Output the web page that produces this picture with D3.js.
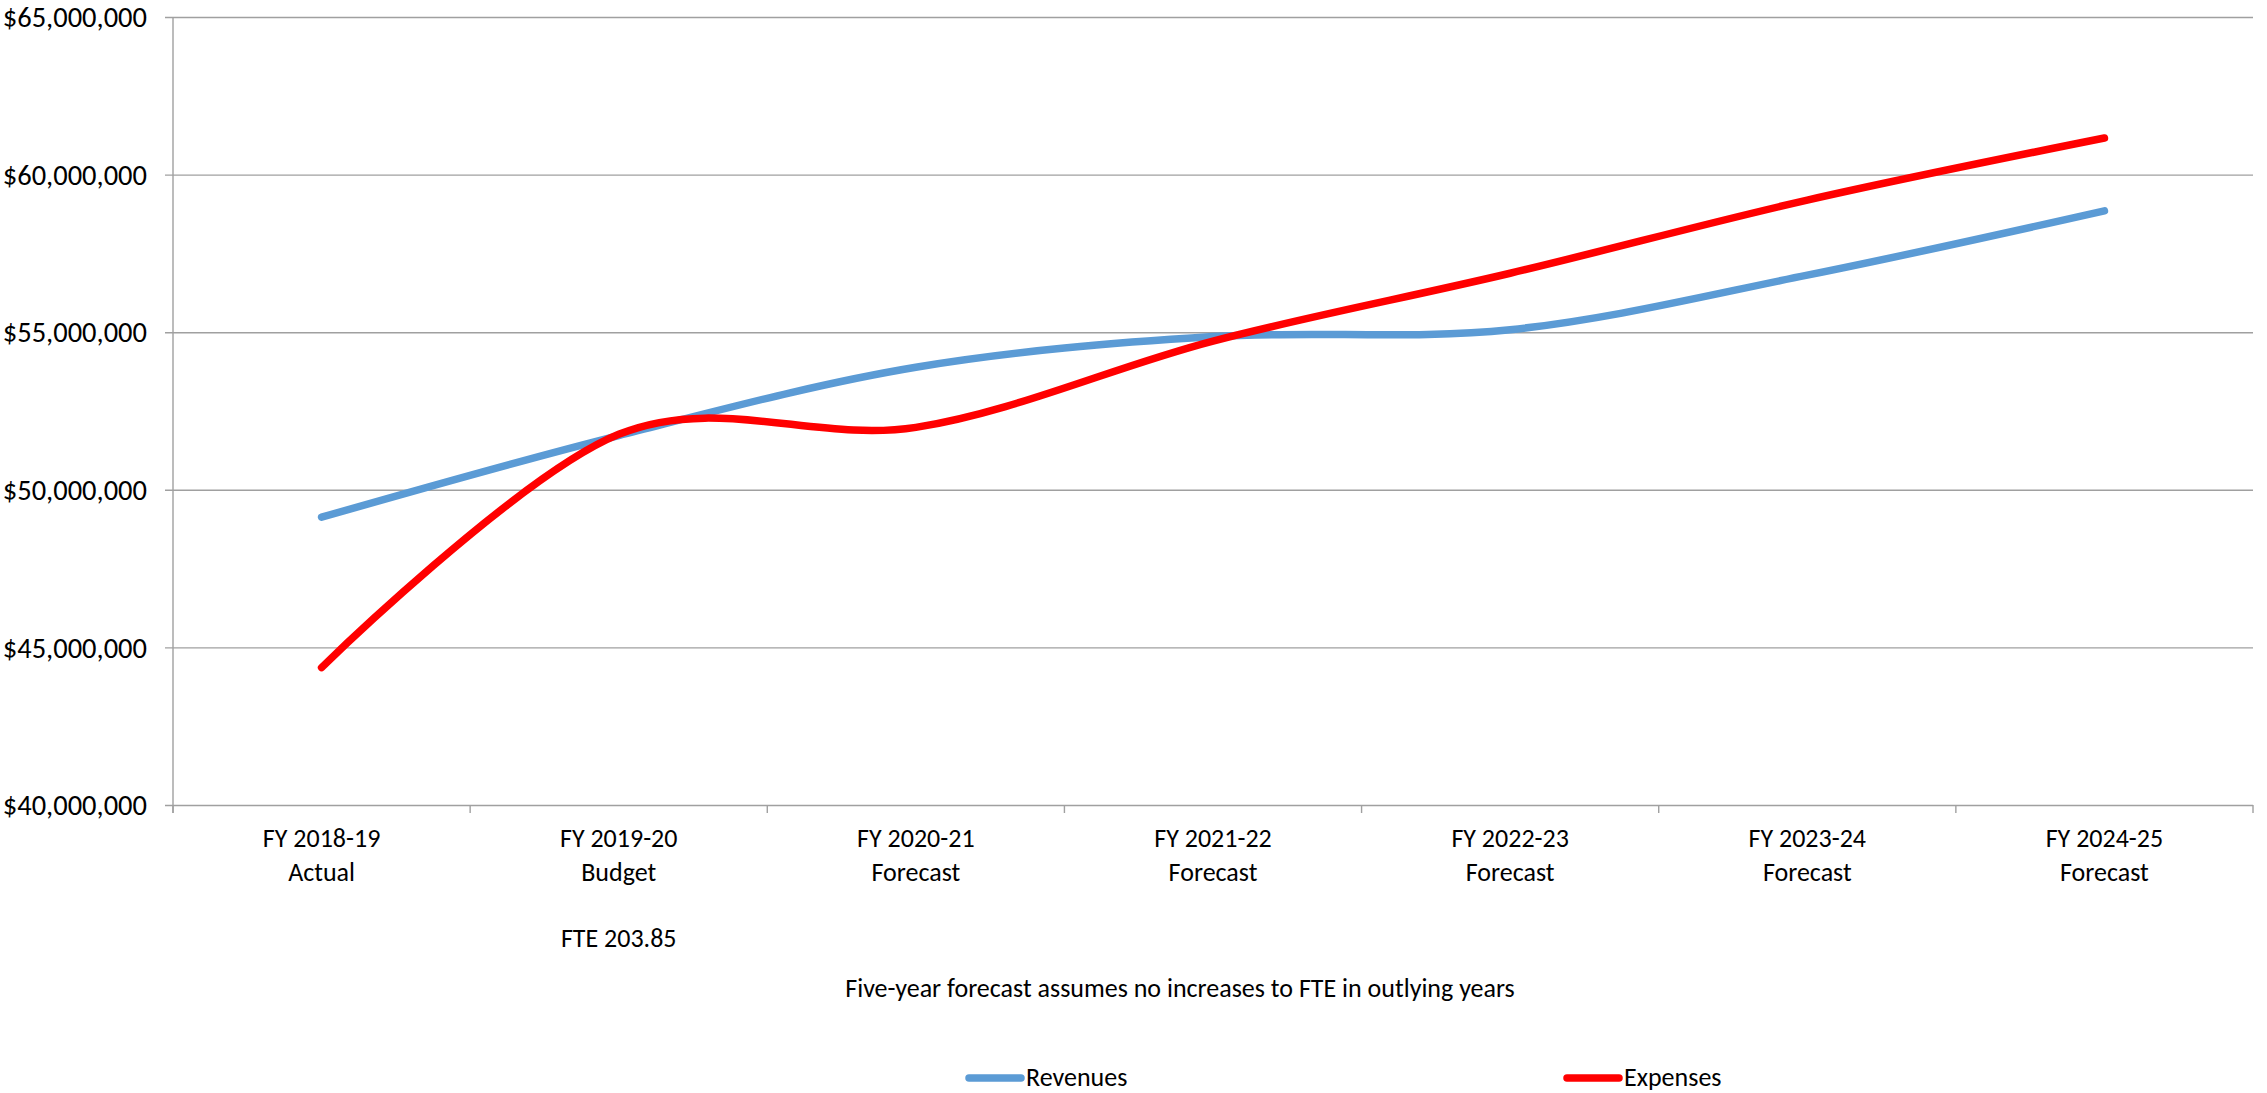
<!DOCTYPE html>
<html>
<head>
<meta charset="utf-8">
<script src="https://cdn.jsdelivr.net/npm/d3@7"></script>
<style>
  body { margin: 0; background: #fff; }
  svg text { font-family: Carlito, Calibri, "Liberation Sans Narrow", "Open Sans", sans-serif; fill: #000; }
</style>
</head>
<body>
<svg id="chart" width="2267" height="1093"></svg>
<script>
// chart values
var years = ["FY 2018-19", "FY 2019-20", "FY 2020-21", "FY 2021-22", "FY 2022-23", "FY 2023-24", "FY 2024-25"];
var stages = ["Actual", "Budget", "Forecast", "Forecast", "Forecast", "Forecast", "Forecast"];
var revenues = [49130000, 51720000, 53890000, 54860000, 55080000, 56810000, 58850000];
var expenses = [44360000, 51760000, 51980000, 54720000, 56870000, 59190000, 61160000];
var yTicks = [40000000, 45000000, 50000000, 55000000, 60000000, 65000000];
var fteNote = "FTE 203.85";
var footNote = "Five-year forecast assumes no increases to FTE in outlying years";

var svg = d3.select("#chart");
var plotLeft = 173, plotRight = 2253, plotTop = 17, plotBottom = 805;

var x = d3.scaleBand().domain(d3.range(years.length)).range([plotLeft, plotRight]);
var y = d3.scaleLinear().domain([40000000, 65000000]).range([plotBottom, plotTop]);
var fmt = function(v) { return "$" + d3.format(",")(v); };

//gridlines with short ticks on the left
var yAxis = d3.axisLeft(y).tickValues(yTicks).tickFormat(fmt)
	.tickSize(-(plotRight - plotLeft)).tickSizeOuter(0).tickPadding(18);
var gy = svg.append("g").attr("transform", "translate(" + plotLeft + ",0)").call(yAxis);
gy.select(".domain").remove();
gy.selectAll(".tick line").attr("x1", -8).attr("stroke", "#a0a0a0").attr("stroke-width", 1.4);
gy.selectAll(".tick text").attr("font-size", 28.5).attr("x", -26).attr("dy", "0.34em");

//vertical axis line
svg.append("line")
	.attr("x1", plotLeft).attr("x2", plotLeft)
	.attr("y1", plotTop).attr("y2", plotBottom + 8)
	.attr("stroke", "#a0a0a0").attr("stroke-width", 1.4);

//category boundary ticks
var bounds = d3.range(years.length + 1).map(function(i) { return plotLeft + i * x.bandwidth(); });
svg.selectAll(".xtick").data(bounds).enter().append("line")
	.attr("x1", function(d) { return d; }).attr("x2", function(d) { return d; })
	.attr("y1", plotBottom).attr("y2", plotBottom + 8)
	.attr("stroke", "#a0a0a0").attr("stroke-width", 1.4);

//category labels
var cx = function(i) { return x(i) + x.bandwidth() / 2; };
var labels = svg.selectAll(".xlab").data(years).enter().append("text")
	.attr("text-anchor", "middle").attr("font-size", 26);
labels.append("tspan").attr("x", function(d, i) { return cx(i); }).attr("y", 847).text(function(d) { return d; });
labels.append("tspan").attr("x", function(d, i) { return cx(i); }).attr("y", 881).text(function(d, i) { return stages[i]; });

svg.append("text").attr("x", cx(1)).attr("y", 947).attr("text-anchor", "middle")
	.attr("font-size", 26).text(fteNote);
svg.append("text").attr("x", 1180).attr("y", 997).attr("text-anchor", "middle")
	.attr("font-size", 26).text(footNote);

//smoothed lines
var line = d3.line()
	.x(function(d, i) { return cx(i); })
	.y(function(d) { return y(d); })
	.curve(d3.curveCatmullRom.alpha(0));

var series = [
	{ name: "Revenues", values: revenues, color: "#5b9bd5", lx: 966 },
	{ name: "Expenses", values: expenses, color: "#ff0000", lx: 1564 }
];

series.forEach(function(s) {
	svg.append("path")
		.attr("d", line(s.values))
		.attr("fill", "none")
		.attr("stroke", s.color)
		.attr("stroke-width", 7.5)
		.attr("stroke-linecap", "round")
		.attr("stroke-linejoin", "round");

	//legend entry
	svg.append("line")
		.attr("x1", s.lx + 3).attr("x2", s.lx + 55)
		.attr("y1", 1078).attr("y2", 1078)
		.attr("stroke", s.color).attr("stroke-width", 7.5)
		.attr("stroke-linecap", "round");
	svg.append("text").attr("x", s.lx + 60).attr("y", 1086)
		.attr("font-size", 26).text(s.name);
});
</script>
</body>
</html>
